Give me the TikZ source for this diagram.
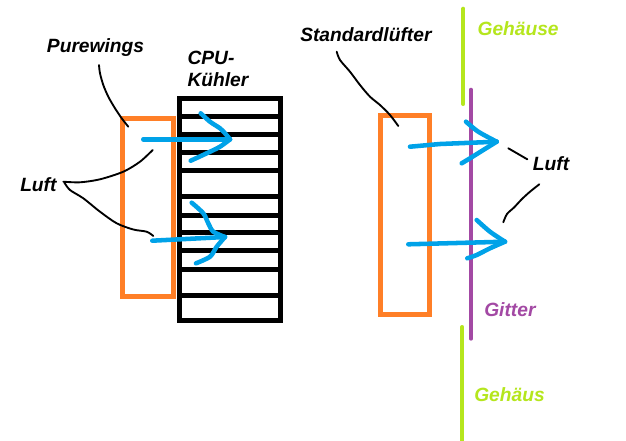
\documentclass[tikz,border=0pt]{standalone}
\usepackage{fontspec}
\setmainfont{Liberation Sans}
\definecolor{pblue}{HTML}{00A2E8}
\definecolor{porange}{HTML}{FF7F27}
\definecolor{pgreen}{HTML}{B5E61D}
\definecolor{ppurple}{HTML}{A349A4}
\tikzset{
  lbl/.style={anchor=base west, inner sep=0pt, font=\fontsize{14.4pt}{16pt}\selectfont\bfseries\itshape},
  fanbox/.style={draw=porange, line width=3.75pt},
  coolerbox/.style={draw=black, line width=3.75pt},
  fin/.style={draw=black, line width=3.75pt},
  airarrow/.style={draw=pblue, line width=3.4pt, line cap=round, line join=round},
  pointer/.style={draw=black, line width=1.4pt, line cap=round, line join=round},
  wall/.style={draw=pgreen, line width=3pt, line cap=round},
  grid/.style={draw=ppurple, line width=3pt, line cap=round}
}
\begin{document}
\begin{tikzpicture}[x=0.75pt, y=-0.75pt]
\path[use as bounding box, fill=white] (0,0) rectangle (626,440);

% case walls and grille
\draw[wall] (463.3,8.7) -- (463.3,104);
\draw[wall] (462.3,327) -- (462.3,445);
\draw[grid] (471,89.7) -- (471,338.7);

% CPU cooler
\draw[coolerbox] (179.5,98.5) rectangle (280.5,320.5);
\foreach \yy in {116.5,134,152,170.5,196,215.3,232.6,250.6,269.2,295.2}
  \draw[fin] (179.5,\yy) -- (280.5,\yy);

% fans
\draw[fanbox] (122.5,118.5) rectangle (173,296.7);
\draw[fanbox] (380.8,115.5) rectangle (429,314.5);

% labels
\node[lbl] (purewings) at (46.7,52.6) {Purewings};
\node[lbl] (cpu) at (187.3,64) {CPU-};
\node[lbl] (kuehler) at (187.3,86) {Kühler};
\node[lbl] (standard) at (300,41) {Standardlüfter};
\node[lbl, text=pgreen] (gehaeuse) at (477.3,35) {Gehäuse};
\node[lbl] (luftR) at (532.7,170) {Luft};
\node[lbl, text=ppurple] (gitter) at (484,316.7) {Gitter};
\node[lbl, text=pgreen] (gehaeus) at (474,401) {Gehäus};
\node[lbl] (luftL) at (20,191) {Luft};

% pointer lines
\draw[pointer] plot[smooth] coordinates {(99,65) (100,73.3) (103.3,85) (108.3,96.7) (115,108.3) (121.7,118.3) (128.3,126.7)};
\draw[pointer] plot[smooth] coordinates {(63.3,181.7) (80,182.3) (100,179.3) (123.3,171.7) (140,161.7) (152.7,150)};
\draw[pointer] plot[smooth] coordinates {(64.3,182.5) (70,190) (83.3,198.3) (100,211.7) (116.7,223.3) (133.3,229.5) (146.7,231.7) (153.3,236)};
\draw[pointer] plot[smooth] coordinates {(336.7,51.7) (340,60) (350,71.7) (360,85) (370,96.7) (380,105) (390,115) (398.3,126)};
\draw[pointer] plot[smooth] coordinates {(508.3,148.3) (517,153.3) (527.3,159.3)};
\draw[pointer] plot[smooth] coordinates {(539.3,184.3) (530,191.7) (522,199) (514,207.5) (507,214) (503.3,222.3)};

% air arrows
\draw[airarrow] (143.3,139.3) -- (230,139.3);
\draw[airarrow] plot[smooth] coordinates {(200.7,113.3) (210,121.7) (220,128.3) (225,133.3) (230,139.3)};
\draw[airarrow] plot[smooth] coordinates {(230,139.3) (220,146.7) (206.7,153.3) (190.7,160.7)};

\draw[airarrow] (152.3,240.7) -- (225,237);
\draw[airarrow] plot[smooth] coordinates {(191.7,202.7) (203.3,213.3) (208.3,223.3) (213.3,231.7) (225,237)};
\draw[airarrow] plot[smooth] coordinates {(225,237) (216.7,246.7) (210,256.7) (196,263.3)};

\draw[airarrow] (410,146.7) -- (440,144) -- (496.7,141.7);
\draw[airarrow] plot[smooth] coordinates {(466,121.7) (478.3,131.7) (496.7,141.7)};
\draw[airarrow] plot[smooth] coordinates {(496.7,141.7) (483.3,150) (470,158.3) (461.7,163.3)};

\draw[airarrow] (408.3,244.3) -- (505,241.7);
\draw[airarrow] plot[smooth] coordinates {(476.7,220) (490,231.7) (505,241.7)};
\draw[airarrow] plot[smooth] coordinates {(505,241.7) (490,248.3) (476.7,255) (467.3,258.3)};
\end{tikzpicture}
\end{document}
